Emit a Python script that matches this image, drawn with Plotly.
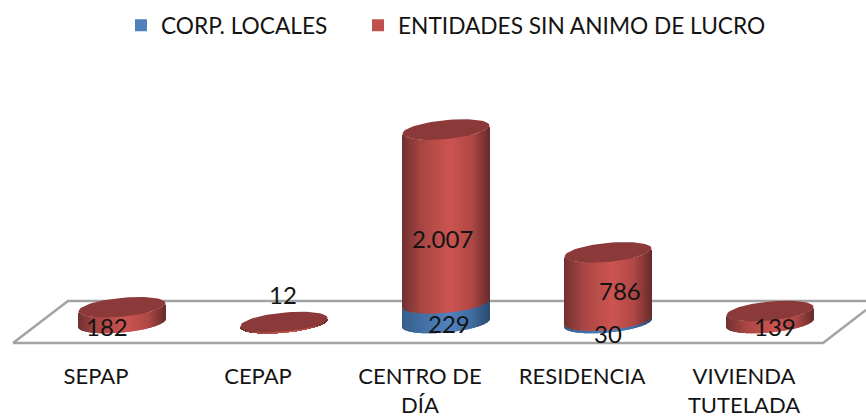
import numpy as np
import plotly.graph_objects as go

categories = ["SEPAP", "CEPAP", "CENTRO DE<br>DÍA", "RESIDENCIA", "VIVIENDA<br>TUTELADA"]
corp_locales = [0, 0, 229, 30, 0]
entidades = [182, 12, 2007, 786, 139]
series_names = ["CORP. LOCALES", "ENTIDADES SIN ANIMO DE LUCRO"]

W, H = 866, 418
PX_PER_UNIT = 0.0865
SPACING = 162.0
X0 = 122.0
BASE_Y = 323.0
AXIS_Y = 353.0
TICK_SHIFT = 26.0
STRIPS = 87
HALF = 43.5 / SPACING
TILT = 4.0 / PX_PER_UNIT
MINOR = 9.5 / PX_PER_UNIT
FONT = "Lato"
TXT = "#141414"


def mix(stops, t):
    xs = [s[0] for s in stops]
    c = [np.interp(t, xs, [s[1][k] for s in stops]) for k in range(3)]
    return "rgb(%d,%d,%d)" % tuple(int(round(v)) for v in c)


RED = [(-1, (112, 48, 47)), (-0.55, (168, 70, 68)), (0.1, (204, 84, 80)), (0.6, (176, 72, 70)), (1, (104, 44, 43))]
BLUE = [(-1, (54, 94, 138)), (-0.5, (66, 112, 166)), (0.1, (80, 130, 190)), (0.6, (64, 108, 160)), (1, (42, 76, 112))]
TOP_RED = "#8B3A39"


def strips(level_lo, level_hi, stops):
    xs, base, height, colors = [], [], [], []
    ts = (np.arange(STRIPS) + 0.5) / STRIPS * 2 - 1
    for i, (lo, hi) in enumerate(zip(level_lo, level_hi)):
        if hi <= lo:
            continue
        for t in ts:
            edge = TILT * t - MINOR * np.sqrt(max(0, 1 - t * t))
            xs.append(i + t * HALF)
            base.append(lo + edge)
            height.append(hi - lo)
            colors.append(mix(stops, t))
    return xs, base, height, colors


def ellipse(i, level):
    th = np.linspace(0, 2 * np.pi, 73)
    return i + HALF * np.cos(th), level + TILT * np.cos(th) + MINOR * np.sin(th)


pos = list(range(len(categories)))
totals = [a + b for a, b in zip(corp_locales, entidades)]
zeros = [0] * len(pos)

fig = go.Figure()
fig.add_trace(go.Bar(name=series_names[0], x=pos, y=corp_locales, width=0.3, legend="legend",
                     marker=dict(color="#4F81BD", line_width=0)))
fig.add_trace(go.Bar(name=series_names[1], x=pos, y=entidades, base=corp_locales, width=0.3, legend="legend2",
                     marker=dict(color="#C0504D", line_width=0)))

for lo, hi, stops in [(zeros, corp_locales, BLUE), (corp_locales, totals, RED)]:
    xs, base, height, colors = strips(lo, hi, stops)
    fig.add_trace(go.Bar(x=xs, y=height, base=base, width=1.4 / SPACING, showlegend=False,
                         marker=dict(color=colors, line_width=0), hoverinfo="skip"))

for i, total in enumerate(totals):
    ex, ey = ellipse(i, total)
    fig.add_trace(go.Scatter(x=ex, y=ey, mode="lines", fill="toself", fillcolor=TOP_RED,
                             line=dict(width=0, color=TOP_RED), showlegend=False, hoverinfo="skip"))


def fmt(v):
    return f"{v:,}".replace(",", ".")


def px(x):
    return x / W


def py(y):
    return (AXIS_Y - y) / AXIS_Y


annotations = []
label_spots = [
    (182, 107, 326), (12, 283, 294), (2007, 443, 238),
    (229, 449, 323), (786, 620, 290), (30, 608, 333), (139, 775, 326),
]
for v, lx, ly in label_spots:
    annotations.append(dict(text=fmt(v), x=px(lx), y=py(ly), xref="paper", yref="paper", showarrow=False,
                            font=dict(family=FONT, size=24, color=TXT), xanchor="center", yanchor="middle"))

floor = f"M {px(13)} {py(343)} L {px(68)} {py(301)} L {px(866)} {py(301)} M {px(13)} {py(343)} L {px(823)} {py(343)} L {px(866)} {py(310)}"

legend_style = dict(orientation="h", xanchor="left", yanchor="top", y=py(4),
                    font=dict(family=FONT, size=22.7, color=TXT), bgcolor="rgba(0,0,0,0)", itemclick=False)

fig.update_layout(
    width=W, height=H,
    margin=dict(l=0, r=0, t=0, b=H - AXIS_Y, autoexpand=False),
    paper_bgcolor="white", plot_bgcolor="rgba(0,0,0,0)",
    barmode="overlay",
    showlegend=True,
    legend=dict(x=px(121), **legend_style),
    legend2=dict(x=px(358), **legend_style),
    font=dict(family=FONT),
    annotations=annotations,
    shapes=[dict(type="path", path=floor, xref="paper", yref="paper", layer="below",
                 line=dict(color="#A3A3A3", width=2.5))],
    xaxis=dict(range=[-X0 / SPACING, (W - X0) / SPACING], tickmode="array",
               tickvals=[p - TICK_SHIFT / SPACING for p in pos], ticktext=categories,
               showgrid=False, zeroline=False, showline=False, ticks="outside", ticklen=4, tickcolor="rgba(0,0,0,0)",
               tickfont=dict(family=FONT, size=22, color=TXT), tickangle=0),
    yaxis=dict(range=[(BASE_Y - AXIS_Y) / PX_PER_UNIT, BASE_Y / PX_PER_UNIT], visible=False, showgrid=False, zeroline=False),
)
fig.write_html("out.html", config={"displayModeBar": False}, post_script="document.body.style.margin='0';")
